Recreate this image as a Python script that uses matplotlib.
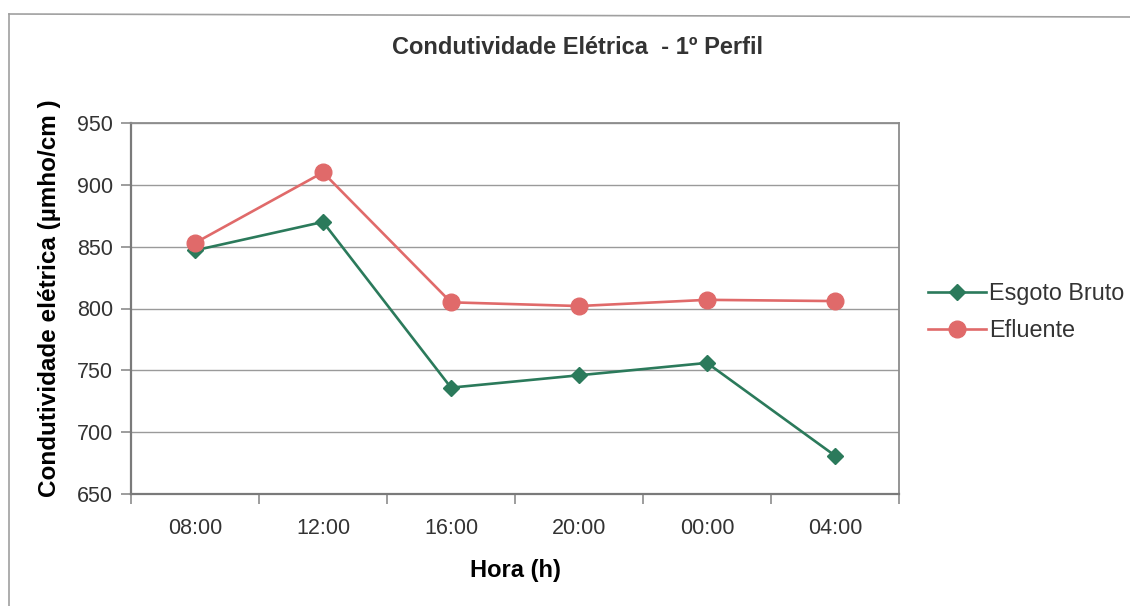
import matplotlib
matplotlib.use("Agg")
import matplotlib.pyplot as plt
from matplotlib.lines import Line2D
import numpy as np

# sampling times and conductivity readings (µmho/cm)
horas = ["08:00", "12:00", "16:00", "20:00", "00:00", "04:00"]
esgoto_bruto = [847, 870, 736, 746, 756, 681]
efluente = [853, 910, 805, 802, 807, 806]

VERDE = "#2b7a5b"
VERMELHO = "#e06a6a"
CINZA = "#8c8c8c"

plt.rcParams["font.family"] = ["Liberation Sans", "DejaVu Sans"]
plt.rcParams["text.color"] = "#333333"

W, H = 1130, 606
fig = plt.figure(figsize=(W / 100, H / 100), dpi=100)
fig.patch.set_facecolor("white")

# plot area in pixel units
left, right, top, bottom = 131, 899, 123, 494
ax = fig.add_axes([left / W, 1 - bottom / H, (right - left) / W, (bottom - top) / H])

x = np.arange(len(horas))
ax.plot(x, esgoto_bruto, color=VERDE, lw=1.9, marker="D", ms=8,
        mfc=VERDE, mec=VERDE, label="Esgoto Bruto", zorder=3)
ax.plot(x, efluente, color=VERMELHO, lw=1.9, marker="o", ms=12,
        mfc=VERMELHO, mec=VERMELHO, label="Efluente", zorder=3)

ax.set_xlim(-0.5, len(horas) - 0.5)
ax.set_ylim(650, 950)
ax.set_yticks(np.arange(650, 951, 50))
ax.yaxis.grid(True, color="#9a9a9a", lw=1.0)
ax.set_axisbelow(True)

# category labels centred, tick marks between categories
ax.set_xticks(np.arange(-0.5, len(horas)), labels=[])
ax.set_xticks(x, labels=horas, minor=True)
ax.tick_params(axis="x", which="major", length=7, width=1.2, color=CINZA, direction="out")
ax.tick_params(axis="x", which="minor", length=0, pad=17, labelsize=15.5, labelcolor="#333333")
ax.tick_params(axis="y", length=7, width=1.2, color=CINZA, pad=6, labelsize=15.5, labelcolor="#333333")

for s in ax.spines.values():
    s.set_color(CINZA)
    s.set_linewidth(1.3)
ax.spines["left"].set_color("#7a7a7a")
ax.spines["bottom"].set_color("#7a7a7a")
ax.spines["left"].set_linewidth(1.6)
ax.spines["bottom"].set_linewidth(1.6)

ax.set_xlabel("Hora (h)", fontsize=17, fontweight="bold")
ax.xaxis.set_label_coords((515 - left) / (right - left), -(559 - bottom) / (bottom - top))
ax.set_ylabel("Condutividade elétrica (µmho/cm )", fontsize=17.5, fontweight="bold")
ax.yaxis.set_label_coords(-(131 - 61) / (right - left), 0.527)

fig.text(578 / W, 1 - 48 / H, "Condutividade Elétrica  - 1º Perfil",
         ha="center", va="center", fontsize=17, fontweight="bold")

fig.legend(loc="center left", bbox_to_anchor=(928 / W, 1 - 312 / H), frameon=False,
           fontsize=16.8, handlelength=2.5, handletextpad=0.12, labelspacing=0.62,
           borderpad=0, borderaxespad=0)

# outer chart frame
fig.add_artist(Line2D([9 / W, 9 / W], [0, 1 - 14 / H], color="#a0a0a0", lw=1.2))
fig.add_artist(Line2D([9 / W, 1], [1 - 14 / H, 1 - 17 / H], color="#a0a0a0", lw=1.2))

fig.savefig("out.png", dpi=100, facecolor="white")
